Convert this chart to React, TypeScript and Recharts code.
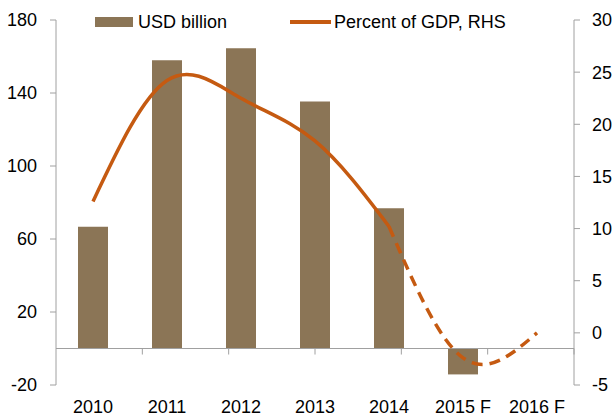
import React from "react";
import {
  ComposedChart,
  Bar,
  Line,
  XAxis,
  YAxis,
  ReferenceLine,
} from "recharts";

const categories = ["2010", "2011", "2012", "2013", "2014", "2015 F", "2016 F"];
const usdBillion = [66.7, 158, 164.5, 135.4, 76.8, -14.2, null];
const pctGdpActual = [12.6, 24.2, 22.5, 18.4, 10.2, null, null];
const pctGdpForecast = [null, null, null, null, 10.2, -2.4, 0];
const leftTicks = [-20, 20, 60, 100, 140, 180];
const rightTicks = [-5, 0, 5, 10, 15, 20, 25, 30];
const boundaryTicks = [1, 2, 3, 4, 5, 6];

const data = categories.map((c, i) => ({
  year: c,
  usd: usdBillion[i],
  pct: pctGdpActual[i],
  pctF: pctGdpForecast[i],
}));

const FONT = "'Liberation Sans', Arial, sans-serif";
const AXIS = "#a0a0a0";
const BAR = "#8B7556";
const LINE = "#C55A11";

const tickStyle = { fontFamily: FONT, fontSize: 18, fill: "#000" };

export default function App() {
  return (
    <div style={{ position: "absolute", left: 0, top: 0, width: 614, height: 416 }}>
      <ComposedChart
        width={614}
        height={416}
        data={data}
        margin={{ top: 20, right: 0, left: 0, bottom: 0 }}
      >
        <XAxis
          dataKey="year"
          axisLine={false}
          tickLine={false}
          tickSize={0}
          tickMargin={15}
          height={31}
          tick={tickStyle}
          interval={0}
        />
        <XAxis xAxisId="num" type="number" domain={[0, 7]} hide />
        <YAxis
          yAxisId="left"
          orientation="left"
          domain={[-20, 180]}
          ticks={leftTicks}
          width={56}
          tickSize={6}
          tickMargin={13}
          axisLine={{ stroke: AXIS }}
          tickLine={{ stroke: AXIS }}
          tick={tickStyle}
          interval={0}
        />
        <YAxis
          yAxisId="right"
          orientation="right"
          domain={[-5, 30]}
          ticks={rightTicks}
          width={40}
          tickSize={6}
          tickMargin={12}
          axisLine={{ stroke: AXIS }}
          tickLine={{ stroke: AXIS }}
          tick={tickStyle}
          interval={0}
        />
        <Bar
          yAxisId="left"
          dataKey="usd"
          fill={BAR}
          barSize={30}
          isAnimationActive={false}
        />
        <ReferenceLine yAxisId="left" y={0} stroke={AXIS} strokeWidth={1} />
        {boundaryTicks.map((b) => (
          <ReferenceLine
            key={b}
            xAxisId="num"
            yAxisId="left"
            segment={[
              { x: b, y: 0 },
              { x: b, y: -3.3 },
            ]}
            stroke={AXIS}
            strokeWidth={1}
          />
        ))}
        <Line
          yAxisId="right"
          dataKey="pct"
          type="natural"
          stroke={LINE}
          strokeWidth={3.5}
          dot={false}
          activeDot={false}
          isAnimationActive={false}
        />
        <Line
          yAxisId="right"
          dataKey="pctF"
          type="natural"
          stroke={LINE}
          strokeWidth={3.5}
          strokeDasharray="11 7"
          dot={false}
          activeDot={false}
          isAnimationActive={false}
        />
      </ComposedChart>
      <div
        style={{
          position: "absolute",
          left: 95,
          top: 12,
          display: "flex",
          alignItems: "center",
          fontFamily: FONT,
          fontSize: 18,
          color: "#000",
          whiteSpace: "nowrap",
          lineHeight: "20px",
        }}
      >
        <span style={{ display: "inline-block", width: 38, height: 10, background: BAR }} />
        <span style={{ marginLeft: 5 }}>USD billion</span>
        <span
          style={{
            display: "inline-block",
            width: 41,
            height: 3.5,
            background: LINE,
            marginLeft: 63,
          }}
        />
        <span style={{ marginLeft: 3 }}>Percent of GDP, RHS</span>
      </div>
    </div>
  );
}
